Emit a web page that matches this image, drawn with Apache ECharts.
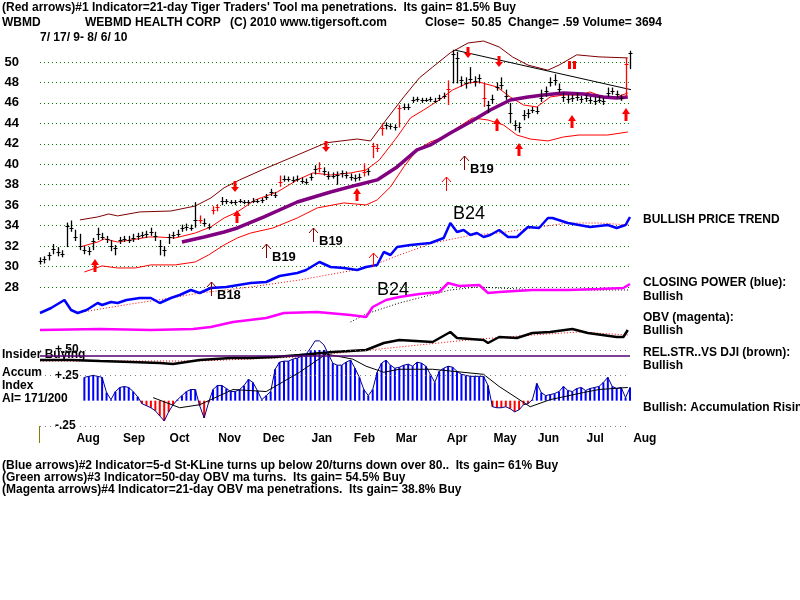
<!DOCTYPE html>
<html>
<head>
<meta charset="utf-8">
<script src="https://cdn.jsdelivr.net/npm/echarts@6/dist/echarts.min.js"></script>
<style>
  html, body { margin: 0; padding: 0; background: #fff; }
  #chart { width: 800px; height: 600px; }
</style>
</head>
<body>
<div id="chart"></div>
<script>
const FONT = '"Liberation Sans", Arial, sans-serif';

// x = trading day since 7/17/09, one price bar every 2 days
const priceClose = [
  30.5,30.7,31.1,31.7,31.4,31.2,34.0,33.8,32.9,32.0,
  31.6,31.5,32.5,33.2,32.9,32.7,32.0,31.8,32.6,32.7,
  32.6,32.8,33.0,33.1,33.2,33.4,33.0,32.0,31.6,32.9,
  33.1,33.2,33.8,33.9,33.8,34.6,34.6,34.3,33.9,35.5,
  35.8,36.4,36.4,36.3,36.3,36.4,36.3,36.3,36.4,36.4,
  36.5,36.8,37.3,37.0,38.3,38.6,38.6,38.5,38.6,38.4,
  38.3,38.8,39.5,39.6,39.3,38.9,38.9,39.0,39.1,39.0,
  38.8,38.7,38.8,39.2,39.3,41.8,41.6,43.5,43.8,43.7,
  43.6,45.5,45.6,45.6,46.3,46.4,46.3,46.3,46.4,46.2,
  46.5,46.7,47.4,50.8,50.4,48.2,47.9,48.3,48.1,48.4,
  46.5,45.8,46.4,47.6,47.8,46.7,45.0,43.8,43.6,44.8,
  45.0,45.3,45.2,46.5,47.2,48.0,48.2,47.4,46.6,46.4,
  46.5,46.6,46.4,46.5,46.3,46.2,46.3,46.2,47.0,47.2,
  46.9,46.5,49.8,50.85
];
const priceHigh = [
  30.9,31.0,31.4,32.2,31.9,31.6,34.3,34.5,33.6,33.2,
  32.0,31.9,32.8,33.8,33.3,33.0,32.6,32.1,32.9,33.0,
  33.0,33.2,33.3,33.4,33.5,33.8,33.4,32.6,32.0,33.2,
  33.4,33.6,34.1,34.2,34.1,36.3,35.0,34.7,34.2,35.9,
  36.1,36.8,36.6,36.5,36.5,36.6,36.5,36.5,36.7,36.6,
  36.7,37.1,37.6,37.3,38.9,38.9,38.8,38.8,38.9,38.7,
  38.6,39.1,39.9,40.2,39.7,39.3,39.2,39.3,39.4,39.3,
  39.1,39.0,39.1,40.1,39.6,42.1,42.0,44.0,44.1,44.0,
  43.9,45.8,45.9,45.9,46.6,46.6,46.5,46.5,46.6,46.5,
  46.8,47.0,48.2,51.2,51.0,48.6,48.5,49.5,48.6,48.8,
  47.9,46.2,46.8,48.0,48.5,47.3,46.0,44.3,44.1,45.3,
  45.4,45.6,45.6,47.3,47.6,48.5,48.8,47.9,47.0,46.8,
  46.8,47.0,46.7,46.8,46.6,46.6,46.7,46.5,47.5,47.5,
  47.2,46.8,50.4,51.1
];
const priceLow = [
  30.2,30.3,30.6,31.2,31.0,30.9,31.9,33.4,32.5,31.6,
  31.2,31.1,31.6,32.6,32.6,32.3,31.5,31.1,32.2,32.4,
  32.3,32.4,32.6,32.8,32.8,33.0,32.5,31.1,31.0,32.2,
  32.7,32.9,33.4,33.5,33.5,33.8,34.2,33.9,33.6,35.1,
  35.4,36.0,36.1,36.1,36.0,36.2,36.1,36.1,36.2,36.2,
  36.2,36.5,36.9,36.7,37.8,38.3,38.3,38.2,38.3,38.1,
  38.0,38.4,39.0,39.2,38.9,38.5,38.6,38.0,38.7,38.6,
  38.4,38.3,38.4,38.8,38.9,40.6,41.2,42.8,43.4,43.4,
  43.3,43.6,45.3,45.3,46.0,46.1,46.0,46.1,46.1,46.0,
  46.2,46.4,45.8,47.9,47.9,47.6,47.4,47.9,47.6,47.9,
  45.6,45.0,45.9,47.2,47.3,46.3,44.0,43.3,43.1,44.3,
  44.5,45.0,44.9,46.1,46.6,47.6,47.7,47.0,46.1,46.0,
  46.1,46.2,46.0,46.1,45.9,45.8,46.0,45.8,46.6,46.8,
  46.5,46.2,46.6,49.3
];
const redBars = [36, 39, 40, 54, 63, 73, 75, 76, 77, 81, 92, 100, 132];

// bands and 50-day ma: [day, price]
const outerBand = [[18,34.56],[26,34.85],[31,35.14],[35,34.95],[45,35.34],[59,35.43],[70,35.92],[77,36.7],[83,37.7],[90,38.47],[100,39.44],[116,40.9],[129,42.1],[143,42.47],[149,42.28],[156,44.33],[164,46.58],[171,48.44],[177,49.5],[185,50.9],[193,51.86],[200,52.05],[207,51.47],[213,50.5],[220,49.7],[229,49.2],[234,49.7],[242,50.7],[252,50.5],[265,50.4]];
const midBand = [[18,31.92],[26,32.4],[29,32.7],[35,32.4],[41,32.6],[49,32.89],[53,32.89],[61,32.8],[70,33.28],[77,33.87],[83,34.75],[89,35.34],[97,36.51],[107,37.29],[116,38.47],[123,39.15],[131,38.95],[140,39.15],[147,39.44],[153,40.42],[161,42.67],[167,44.53],[173,45.31],[180,46.29],[186,47.26],[193,47.95],[198,48.04],[206,47.56],[212,46.58],[218,45.8],[224,45.6],[230,46.58],[236,46.77],[243,46.77],[248,47.07],[254,46.58],[260,46.58],[265,46.97]];
const lowerBand = [[20,29.47],[28,30.06],[35,29.86],[43,29.86],[50,30.16],[61,30.16],[70,30.45],[76,31.13],[83,32.11],[89,32.8],[95,33.28],[105,33.77],[116,34.75],[125,35.73],[137,36.22],[147,36.02],[152,36.51],[158,37.78],[164,39.74],[170,41.4],[176,42.18],[182,42.67],[188,43.55],[195,44.53],[202,44.33],[209,43.84],[215,42.86],[221,42.47],[229,42.28],[236,42.67],[243,42.86],[256,42.86],[265,43.16]];
const ma50 = [[64,32.4],[74,32.89],[83,33.38],[89,33.77],[101,34.85],[116,36.31],[131,37.29],[143,37.98],[152,38.47],[161,39.74],[170,41.4],[176,41.89],[185,43.06],[194,44.13],[203,45.31],[212,46.29],[220,46.58],[227,46.77],[236,46.97],[245,46.87],[254,46.58],[260,46.48],[265,46.58]];
const trendLine = [[187,51.17],[271,47.07]];

// [day, price, kind, label]
const signals = [
  [25,30.74,'up',''],[89,35.53,'up',''],[143,37.68,'up',''],[206,44.53,'up',''],
  [216,42.08,'up',''],[240,44.82,'up',''],[264,45.5,'up',''],
  [88,37.29,'down',''],[129,41.2,'down',''],[193,50.39,'down',''],[207,49.51,'down',''],
  [240,49.3,'double',''],
  [77,28.5,'thin','B18'],[102,32.2,'thin','B19'],[123,33.77,'thin','B19'],[191,40.8,'thin','B19'],
  [183,38.76,'thinRed',''],[150,31.33,'thinRed',''],
  [186,35.14,'text','B24'],[152,27.71,'text','B24']
];

// lower indicators, arbitrary units: [day, value]
const closingPower = [[0,7],[5,12],[11,20],[14,10],[17,7],[21,10],[26,17],[28,15],[32,18],[35,17],[39,20],[45,22],[50,22],[54,17],[59,22],[63,25],[68,30],[72,27],[77,32],[84,33],[95,37],[102,38],[108,44],[116,47],[120,50],[126,58],[131,53],[137,52],[143,50],[147,53],[152,55],[155,68],[158,65],[161,73],[167,75],[176,77],[182,82],[185,97],[188,88],[191,90],[194,85],[197,87],[200,83],[203,85],[207,90],[211,83],[215,83],[220,93],[225,92],[229,102],[231,102],[238,97],[243,95],[248,93],[256,95],[260,92],[264,95],[266,103]];
const closingPowerMa = [[19,8],[41,16],[59,22],[72,27],[95,33],[117,40],[147,52],[162,65],[177,77],[195,85],[207,87],[222,92],[238,97],[252,97],[266,95]];
const obv = [[0,5],[27,6],[50,5],[69,6],[77,8],[87,13],[102,17],[110,22],[125,23],[140,20],[147,18],[150,28],[156,35],[162,38],[171,41],[180,43],[184,52],[189,49],[198,50],[202,42],[207,43],[222,45],[238,45],[252,46],[263,47],[266,51]];
const obvMa = [[140,13],[147,21],[162,32],[185,45],[197,48],[207,47],[225,45],[252,45],[266,45]];
const relStr = [[0,5],[14,5],[27,4],[41,3],[54,2],[60,1],[72,5],[86,7],[95,7],[106,8],[117,10],[132,13],[147,15],[155,22],[162,25],[177,23],[185,33],[188,27],[200,25],[202,22],[207,28],[215,27],[222,32],[230,33],[240,36],[247,32],[260,28],[263,28],[265,35]];
const relStrMa = [[0,4],[72,4],[117,8],[162,18],[193,25],[222,30],[243,33],[265,30]];

// accumulation index, every 2 days from day 20
const aiValues = [
  0.23,0.24,0.25,0.24,0.23,0.08,0.01,0.09,0.13,0.14,
  0.13,0.09,0.04,-0.03,-0.05,-0.07,-0.10,-0.15,-0.20,-0.11,
  -0.04,0.01,0.05,0.09,0.11,0.11,-0.05,-0.17,-0.02,0.11,
  0.15,0.15,0.12,0.09,0.09,0.11,0.15,0.21,0.18,0.10,
  0.01,0.05,0.09,0.31,0.38,0.39,0.39,0.41,0.42,0.44,
  0.46,0.52,0.59,0.59,0.55,0.46,0.37,0.35,0.35,0.38,
  0.40,0.32,0.23,0.11,0.05,0.11,0.28,0.37,0.40,0.35,
  0.32,0.33,0.35,0.36,0.34,0.38,0.37,0.34,0.26,0.18,
  0.29,0.32,0.34,0.33,0.29,0.26,0.25,0.24,0.24,0.24,
  0.24,0.15,-0.06,-0.07,-0.07,-0.06,-0.08,-0.11,-0.09,-0.04,
  -0.03,0.01,0.17,0.08,0.05,0.06,0.07,0.09,0.14,0.10,
  0.09,0.12,0.13,0.10,0.12,0.13,0.14,0.18,0.23,0.14,
  0.12,0.13,0.03,0.13
];
const aiMa = [[51,0.03],[63,-0.07],[72,-0.04],[87,0.11],[102,0.09],[117,0.28],[129,0.46],[141,0.41],[147,0.34],[155,0.28],[162,0.31],[177,0.31],[200,0.26],[207,0.14],[221,-0.06],[230,0.01],[245,0.08],[252,0.11],[265,0.13]];
const aiTicks = [0.5, 0.25, -0.25];
const aiTickLabels = ['+.50', '+.25', '-.25'];
const insiderLevel = 0.44;

const monthStarts = [11, 32, 53, 75, 95, 117, 136, 155, 178, 199, 219, 241, 262];
const monthNames = ['Aug','Sep','Oct','Nov','Dec','Jan','Feb','Mar','Apr','May','Jun','Jul','Aug'];

const chart = echarts.init(document.getElementById('chart'), null, { renderer: 'canvas' });

const bold = (size) => `bold ${size}px ${FONT}`;
const txt = (text, x, y, opts = {}) => ({
  type: 'text', x, y, silent: true,
  style: { text, font: opts.font || bold(12), fill: opts.fill || '#000', verticalAlign: 'middle', align: 'left' }
});

const hiddenX = (gi) => ({ type: 'value', gridIndex: gi, min: 0, max: 266, show: false });
const hiddenY = (gi, min, max) => ({ type: 'value', gridIndex: gi, min, max, show: false });
const lineSeries = (data, gi, color, width, type) => ({
  type: 'line', xAxisIndex: gi, yAxisIndex: gi, data, symbol: 'none', clip: false,
  lineStyle: { color, width, type: type || 'solid' }, z: 3
});

const barData = priceClose.map((c, i) => [i * 2, priceLow[i], priceHigh[i], c]);
const aiData = aiValues.map((v, i) => [20 + i * 2, v]);

function renderBar(params, api) {
  const x = api.value(0);
  const lo = api.coord([x, api.value(1)]);
  const hi = api.coord([x, api.value(2)]);
  const cl = api.coord([x, api.value(3)]);
  const px = Math.round(lo[0]) + 0.5;
  const cy = Math.round(cl[1]) + 0.5;
  const color = redBars.includes(params.dataIndex) ? '#ff0000' : '#000000';
  return {
    type: 'group',
    children: [
      { type: 'line', shape: { x1: px, y1: lo[1], x2: px, y2: hi[1] }, style: { stroke: color, lineWidth: 1.3 } },
      { type: 'line', shape: { x1: px - 2, y1: cy, x2: px + 2, y2: cy }, style: { stroke: color, lineWidth: 1 } }
    ]
  };
}

function renderSignal(params, api) {
  const s = signals[params.dataIndex];
  const p = api.coord([api.value(0), api.value(1)]);
  const x = Math.round(p[0]), y = Math.round(p[1]);
  const kind = s[2];
  if (kind === 'up') {
    return { type: 'polygon', shape: { points: [[x, y], [x - 4, y + 6], [x - 1.5, y + 6], [x - 1.5, y + 13], [x + 1.5, y + 13], [x + 1.5, y + 6], [x + 4, y + 6]] }, style: { fill: '#ff0000' } };
  }
  if (kind === 'down') {
    return { type: 'polygon', shape: { points: [[x, y], [x - 4, y - 5], [x - 1.5, y - 5], [x - 1.5, y - 11], [x + 1.5, y - 11], [x + 1.5, y - 5], [x + 4, y - 5]] }, style: { fill: '#ff0000' } };
  }
  if (kind === 'double') {
    return {
      type: 'group', children: [
        { type: 'rect', shape: { x: x - 4, y: y - 8, width: 3, height: 8 }, style: { fill: '#ff0000' } },
        { type: 'rect', shape: { x: x + 1, y: y - 8, width: 3, height: 8 }, style: { fill: '#ff0000' } }
      ]
    };
  }
  if (kind === 'text') {
    return { type: 'text', x, y, style: { text: s[3], font: `18px ${FONT}`, fill: '#000', verticalAlign: 'middle' } };
  }
  const color = kind === 'thin' ? '#800000' : '#ff0000';
  const children = [
    { type: 'polyline', shape: { points: [[x - 4, y + 5], [x + 0.5, y], [x + 5, y + 5]] }, style: { stroke: color, fill: null, lineWidth: 1 } },
    { type: 'line', shape: { x1: x + 0.5, y1: y, x2: x + 0.5, y2: y + 14 }, style: { stroke: color, lineWidth: 1 } }
  ];
  if (s[3]) {
    children.push({ type: 'text', x: x + 6, y: y + 13, style: { text: s[3], font: bold(13), fill: '#000', verticalAlign: 'middle' } });
  }
  return { type: 'group', children };
}

const option = {
  animation: false,
  backgroundColor: '#ffffff',
  grid: [
    { left: 40, top: 62, width: 590, height: 225 },
    { left: 40, top: 210, width: 590, height: 110 },
    { left: 40, top: 275, width: 590, height: 60 },
    { left: 40, top: 320, width: 590, height: 45 },
    { left: 40, top: 350, width: 590, height: 76 }
  ],
  xAxis: [
    hiddenX(0), hiddenX(1), hiddenX(2), hiddenX(3),
    {
      type: 'value', gridIndex: 4, min: 0, max: 266,
      axisLine: { show: false }, axisTick: { show: false }, splitLine: { show: false },
      axisLabel: {
        customValues: monthStarts,
        formatter: (v) => monthNames[monthStarts.indexOf(v)] || '',
        align: 'left', padding: [0, 0, 0, 12], margin: 7,
        color: '#000', fontFamily: FONT, fontWeight: 'bold', fontSize: 12
      }
    }
  ],
  yAxis: [
    {
      type: 'value', gridIndex: 0, min: 28, max: 50, interval: 2,
      axisLine: { show: false }, axisTick: { show: false },
      axisLabel: { margin: 21, color: '#000', fontFamily: FONT, fontWeight: 'bold', fontSize: 13 },
      splitLine: { show: true, lineStyle: { color: '#008000', type: [1, 3], width: 1 } }
    },
    hiddenY(1, 0, 110), hiddenY(2, 0, 60), hiddenY(3, 0, 45),
    {
      type: 'value', gridIndex: 4, min: -0.25, max: 0.5, interval: 0.25,
      axisLine: { show: false }, axisTick: { show: false }, splitLine: { show: false },
      axisLabel: {
        inside: true, margin: 15, customValues: aiTicks,
        formatter: (v) => aiTickLabels[aiTicks.indexOf(v)] || '',
        color: '#000', fontFamily: FONT, fontWeight: 'bold', fontSize: 12
      }
    }
  ],
  series: [
    lineSeries(outerBand, 0, '#800000', 1),
    lineSeries(midBand, 0, '#ff0000', 1),
    lineSeries(lowerBand, 0, '#ff0000', 1),
    lineSeries(ma50, 0, '#800080', 3.5),
    lineSeries(trendLine, 0, '#000000', 1),
    {
      type: 'custom', xAxisIndex: 0, yAxisIndex: 0, data: barData, clip: false, z: 4,
      renderItem: renderBar
    },
    {
      type: 'custom', xAxisIndex: 0, yAxisIndex: 0, clip: false, z: 5,
      data: signals.map((s) => [s[0], s[1]]),
      renderItem: renderSignal
    },
    lineSeries(closingPowerMa, 1, '#ff0000', 1, [1, 2]),
    lineSeries(closingPower, 1, '#0000ff', 2.5),
    lineSeries(obvMa, 2, '#000000', 1, [1, 2]),
    lineSeries(obv, 2, '#ff00ff', 2.5),
    lineSeries(relStrMa, 3, '#ff0000', 1, [1, 2]),
    lineSeries(relStr, 3, '#000000', 2.5),
    {
      type: 'bar', xAxisIndex: 4, yAxisIndex: 4, data: aiData, barWidth: 2, z: 2,
      itemStyle: { color: (p) => (p.value[1] < 0 ? '#ff0000' : '#0000ff') },
      markLine: {
        silent: true, symbol: 'none', label: { show: false },
        data: [
          ...aiTicks.map((v) => ({ yAxis: v, lineStyle: { color: '#808080', type: [1, 4], width: 1 } })),
          { yAxis: insiderLevel, lineStyle: { color: '#500070', type: 'solid', width: 1.5 } }
        ]
      }
    },
    lineSeries(aiData, 4, '#00008b', 1),
    lineSeries(aiMa, 4, '#000000', 1)
  ],
  graphic: [
    txt("(Red arrows)#1 Indicator=21-day Tiger Traders' Tool ma penetrations.  Its gain= 81.5% Buy", 2, 8),
    txt('WBMD', 2, 23),
    txt('WEBMD HEALTH CORP', 85, 23),
    txt('(C) 2010 www.tigersoft.com', 230, 23),
    txt('Close=  50.85  Change= .59 Volume= 3694', 425, 23),
    txt('7/ 17/ 9- 8/ 6/ 10', 40, 38),
    txt('BULLISH PRICE TREND', 643, 220),
    txt('CLOSING POWER (blue):', 643, 283),
    txt('Bullish', 643, 297),
    txt('OBV (magenta):', 643, 318),
    txt('Bullish', 643, 331),
    txt('REL.STR..VS DJI (brown):', 643, 353),
    txt('Bullish', 643, 366),
    txt('Bullish: Accumulation Rising', 643, 408),
    txt('Insider Buying', 2, 355),
    txt('Accum', 2, 373),
    txt('Index', 2, 386),
    txt('AI= 171/200', 2, 399),
    txt('(Blue arrows)#2 Indicator=5-d St-KLine turns up below 20/turns down over 80..  Its gain= 61% Buy', 2, 466),
    txt('(Green arrows)#3 Indicator=50-day OBV ma turns.  Its gain= 54.5% Buy', 2, 478),
    txt('(Magenta arrows)#4 Indicator=21-day OBV ma penetrations.  Its gain= 38.8% Buy', 2, 490),
    { type: 'line', silent: true, shape: { x1: 39.5, y1: 426, x2: 39.5, y2: 443 }, style: { stroke: '#808000', lineWidth: 1 } }
  ]
};

chart.setOption(option);
</script>
</body>
</html>
